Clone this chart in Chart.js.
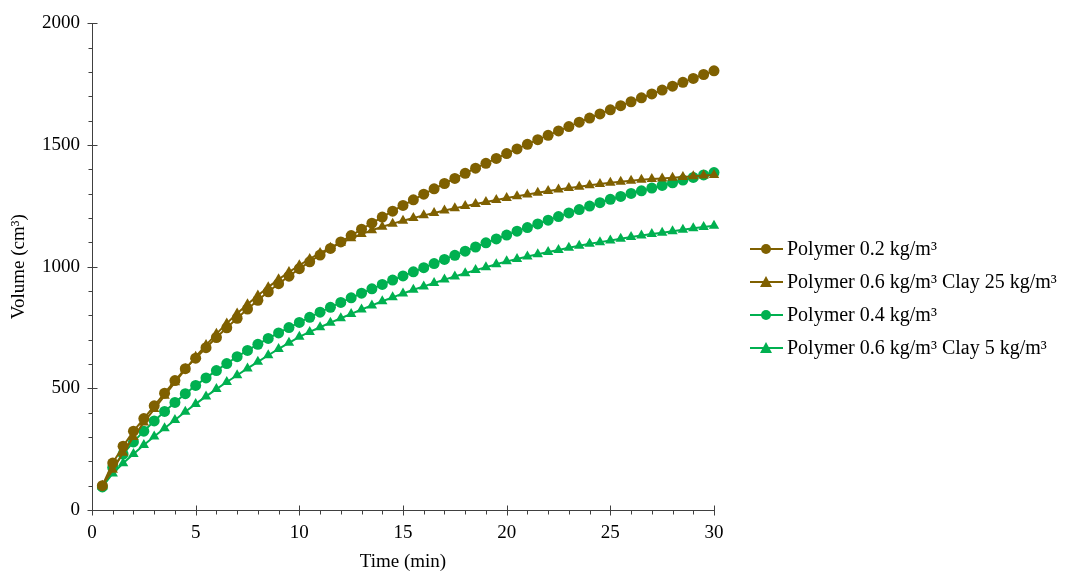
<!DOCTYPE html>
<html><head><meta charset="utf-8">
<script src="https://cdn.jsdelivr.net/npm/chart.js@4.4.1/dist/chart.umd.min.js"></script>
<style>
html,body{margin:0;padding:0;background:#fff;overflow:hidden}
#wrap{position:relative;width:1065px;height:572px}
canvas{position:absolute;left:0;top:0}
#legend{position:absolute;left:750px;top:232px;font-family:"Liberation Serif",serif;font-size:20px;color:#000}
.row{display:flex;align-items:center;height:33px;white-space:nowrap}
.row svg{margin-right:4px}
</style></head><body>
<div id="wrap"><canvas id="c" width="1065" height="572"></canvas><div id="legend"></div></div>
<script>
const times = [0.5,1,1.5,2,2.5,3,3.5,4,4.5,5,5.5,6,6.5,7,7.5,8,8.5,9,9.5,10,
  10.5,11,11.5,12,12.5,13,13.5,14,14.5,15,15.5,16,16.5,17,17.5,18,18.5,19,19.5,20,
  20.5,21,21.5,22,22.5,23,23.5,24,24.5,25,25.5,26,26.5,27,27.5,28,28.5,29,29.5,30];

const polymer02 = [100,193,262,324,376,428,480,532,581,624,667,709,749,788,826,862,897,930,961,992,
  1020,1048,1075,1102,1128,1154,1179,1204,1228,1252,1275,1298,1320,1342,1363,1384,1405,1425,1445,1465,
  1484,1503,1522,1540,1558,1576,1594,1611,1628,1645,1662,1678,1694,1710,1726,1742,1758,1774,1790,1805];

const polymer06clay25 = [100,165,235,300,360,415,470,525,578,630,678,724,767,808,846,882,916,948,978,1006,
  1032,1056,1078,1098,1117,1134,1150,1164,1177,1189,1200,1211,1221,1231,1240,1249,1258,1266,1274,1282,
  1290,1297,1304,1311,1317,1323,1329,1335,1340,1345,1349,1353,1357,1360,1363,1366,1369,1372,1375,1377];

const polymer04 = [95,175,230,280,324,366,405,442,478,512,543,573,602,630,656,681,705,728,750,771,
  792,813,833,853,872,891,909,927,945,962,979,996,1013,1030,1047,1064,1081,1098,1114,1130,
  1146,1161,1176,1191,1206,1221,1235,1249,1263,1277,1289,1301,1312,1323,1334,1345,1356,1367,1377,1387];

const polymer06clay5 = [95,150,192,230,267,302,336,370,404,436,467,497,526,554,582,609,636,662,687,712,
  732,751,770,788,806,824,841,858,874,890,905,919,933,947,960,973,986,998,1010,1022,
  1032,1042,1051,1060,1069,1078,1086,1094,1101,1108,1115,1122,1128,1134,1140,1146,1152,1158,1163,1168];

const seriesLabels = ["Polymer 0.2 kg/m³","Polymer 0.6 kg/m³ Clay 25 kg/m³","Polymer 0.4 kg/m³","Polymer 0.6 kg/m³ Clay 5 kg/m³"];
const xTickStep = 5, yTickStep = 500;

const BROWN = '#7f6000', GREEN = '#00b050';
const FONT = '"Liberation Serif", serif';

function ds(label, vals, color, style){
  return {label, data: times.map((t,i)=>({x:t,y:vals[i]})), borderColor:color, backgroundColor:color,
    pointBackgroundColor:color, pointBorderColor:color, pointStyle:style,
    pointRadius: style==='triangle'?6:5.5, pointBorderWidth:0, borderWidth:2, tension:0, clip:false};
}

const axisPlugin = {
  id:'axes',
  beforeDatasetsDraw(chart){
    const {ctx, chartArea:a, scales:{x,y}} = chart;
    ctx.save(); ctx.strokeStyle='#404040'; ctx.lineWidth=1; ctx.beginPath();
    const L = Math.round(a.left)+0.5, B = Math.round(a.bottom)+0.5;
    ctx.moveTo(L, a.top); ctx.lineTo(L, B);
    ctx.moveTo(L, B); ctx.lineTo(a.right, B);
    for(let v=0; v<=2000; v+=100){
      const py = Math.round(y.getPixelForValue(v))+0.5;
      if(v%500===0){ctx.moveTo(L-5,py);ctx.lineTo(L+5,py);} else {ctx.moveTo(L-4,py);ctx.lineTo(L,py);}
    }
    for(let v=0; v<=30; v+=1){
      const px = Math.round(x.getPixelForValue(v))+0.5;
      if(v%5===0){ctx.moveTo(px,B-5);ctx.lineTo(px,B+5);} else {ctx.moveTo(px,B);ctx.lineTo(px,B+4);}
    }
    ctx.stroke(); ctx.restore();
  }
};

new Chart(document.getElementById('c'), {
  type:'line',
  data:{datasets:[
    ds(seriesLabels[0], polymer02, BROWN, 'circle'),
    ds(seriesLabels[1], polymer06clay25, BROWN, 'triangle'),
    ds(seriesLabels[2], polymer04, GREEN, 'circle'),
    ds(seriesLabels[3], polymer06clay5, GREEN, 'triangle')
  ]},
  options:{
    responsive:false, animation:false,
    layout:{padding:{left:0,right:351,top:21,bottom:0}},
    plugins:{legend:{display:false}, tooltip:{enabled:false}},
    scales:{
      x:{type:'linear', min:0, max:30,
        ticks:{stepSize:xTickStep, color:'#000', font:{family:FONT,size:19}, padding:12, maxRotation:0, callback:v=>String(v)},
        grid:{display:false, drawTicks:false}, border:{display:false},
        title:{display:true, text:'Time (min)', color:'#000', font:{family:FONT,size:19,lineHeight:1}, padding:{top:0,bottom:0}},
        afterFit(s){ s.height = 62; }
      },
      y:{type:'linear', min:0, max:2000,
        ticks:{stepSize:yTickStep, color:'#000', font:{family:FONT,size:19}, padding:12, callback:v=>String(v)},
        grid:{display:false, drawTicks:false}, border:{display:false},
        title:{display:true, text:'Volume (cm³)', color:'#000', font:{family:FONT,size:19,lineHeight:1}, padding:{top:10,bottom:0}},
        afterFit(s){ s.width = 92; }
      }
    }
  },
  plugins:[axisPlugin]
});

const leg = document.getElementById('legend');
const styles = [['circle',BROWN],['triangle',BROWN],['circle',GREEN],['triangle',GREEN]];
seriesLabels.forEach((lab,i)=>{
  const [st,col] = styles[i];
  const mark = st==='circle' ? `<circle cx="16" cy="8" r="5" fill="${col}"/>` :
    `<polygon points="16,2 22,13 10,13" fill="${col}"/>`;
  const row = document.createElement('div'); row.className='row';
  row.innerHTML = `<svg width="33" height="16"><line x1="0" y1="8" x2="33" y2="8" stroke="${col}" stroke-width="2"/>${mark}</svg><span>${lab}</span>`;
  leg.appendChild(row);
});
</script>
</body></html>
